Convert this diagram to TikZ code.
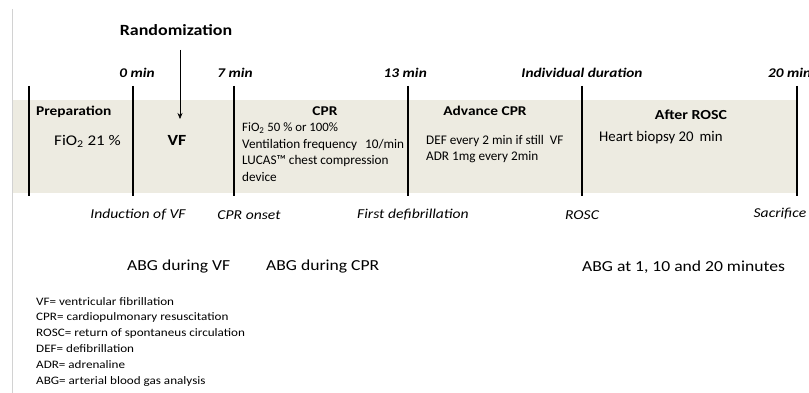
\documentclass[tikz,border=0pt]{standalone}
\usepackage{fontspec}
\setmainfont{Carlito}[FakeStretch=1.15]
\newfontfamily\plainfont{Carlito}
\usetikzlibrary{arrows.meta}
\definecolor{band}{HTML}{EDEBE1}
\newcommand{\fsz}[1]{\fontsize{#1}{#1}\selectfont}
\begin{document}
\begin{tikzpicture}[x=1pt,y=-1pt,
  bar/.style={line width=2.6pt},
  lbl/.style={inner sep=0pt,anchor=west},
  tick/.style={inner sep=0pt,font=\fsz{13.3}\bfseries\itshape},
  evt/.style={inner sep=0pt,font=\fsz{13.6}\itshape},
  head/.style={inner sep=0pt,font=\fsz{13.4}\bfseries},
  small/.style={inner sep=0pt,anchor=west,font=\plainfont\fsz{13.2}},
  abg/.style={inner sep=0pt,anchor=west,font=\fsz{15.3}},
  legend/.style={inner sep=0pt,anchor=north west,align=left,font=\fontsize{11.4}{15.8}\selectfont}]
\useasboundingbox (0,0) rectangle (809,393);
\fill[band] (12,100) rectangle (797,193);
\draw[gray!35,line width=0.8pt] (12,9) -- (12,393);
% bars
\foreach \n/\x in {b0/29,b1/133,b2/234,b3/408,b4/582,b5/797}{
  \coordinate (\n t) at (\x,86);
  \coordinate (\n b) at (\x,196);
  \draw[bar] (\n t) -- (\n b);
}
% top labels
\node[inner sep=0pt,font=\fsz{15.6}\bfseries] (rand) at (176,30) {Randomization};
\coordinate (arrS) at (180,50);
\coordinate (arrE) at (180,119);
\draw[-{Stealth[length=6pt,width=5pt]},line width=0.6pt] (arrS) -- (arrE);
\node[tick,anchor=east] (t0) at (155,73) {0 min};
\node[tick,anchor=east] (t7) at (253,73) {7 min};
\node[tick,anchor=east] (t13) at (427,73) {13 min};
\node[tick] (tind) at (582,73) {Individual duration};
\node[tick,anchor=west] (t20) at (768,73) {20 min};
% band contents
\node[head,lbl] (prep) at (36,112) {Preparation};
\node[lbl,font=\fsz{14.8}] (fio21) at (54,141) {FiO\textsubscript{2} 21 \%};
\node[head,font=\fsz{15.5}\bfseries] (vf) at (177,140) {VF};
\node[head] (cpr) at (325,111) {CPR};
\node[small,font=\plainfont\fsz{12.8}] (c1) at (242,128) {FiO\textsubscript{2} 50 \% or 100\%};
\node[small] (c2) at (242,145) {Ventilation frequency\hspace{8pt}10/min};
\node[small] (c3) at (242,161) {LUCAS™ chest compression};
\node[small] (c4) at (242,177) {device};
\node[head] (adv) at (485,111) {Advance CPR};
\node[small] (d1) at (426,141) {DEF every 2 min if still\hspace{6pt}VF};
\node[small] (d2) at (426,157) {ADR 1mg every 2min};
\node[head,font=\fsz{13.8}\bfseries] (rosc) at (691,115) {After ROSC};
\node[lbl,font=\plainfont\fsz{14.8}] (biopsy) at (599,138) {Heart biopsy 20\hspace{6pt}min};
% events
\node[evt] (e1) at (138,215) {Induction of VF};
\node[evt] (e2) at (249,215) {CPR onset};
\node[evt] (e3) at (413,215) {First defibrillation};
\node[evt] (e4) at (582,215) {ROSC};
\node[evt] (e5) at (780,214) {Sacrifice};
% ABG
\node[abg] (a1) at (127,267) {ABG during VF};
\node[abg] (a2) at (266,267) {ABG during CPR};
\node[abg] (a3) at (582,267) {ABG at 1, 10 and 20 minutes};
% legend
\node[legend] (leg) at (36,297) {VF= ventricular fibrillation\\CPR= cardiopulmonary resuscitation\\ROSC= return of spontaneus circulation\\DEF= defibrillation\\ADR= adrenaline\\ABG= arterial blood gas analysis};
\end{tikzpicture}
\end{document}
